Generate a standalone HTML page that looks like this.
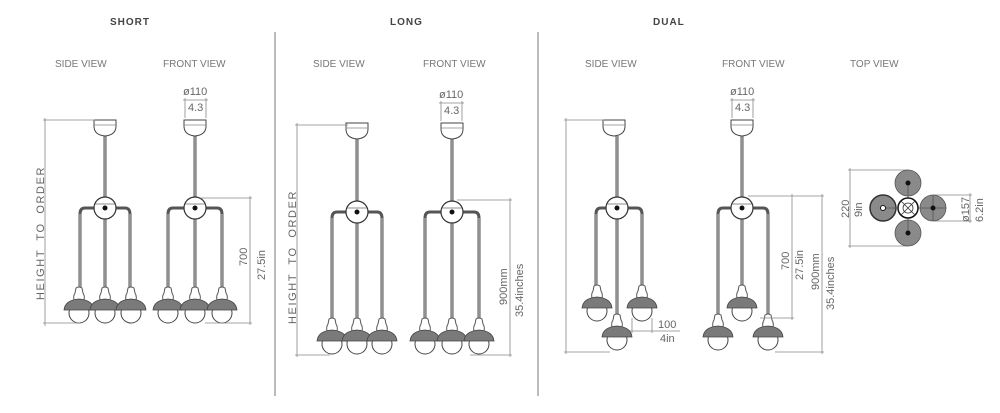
<!DOCTYPE html>
<html><head><meta charset="utf-8"><style>
html,body{margin:0;padding:0;background:#fff;}
svg{display:block;font-family:"Liberation Sans",sans-serif;}
.t{font-size:10px;fill:#777;}
.h{font-size:10px;font-weight:bold;fill:#444;letter-spacing:1px}
.d{stroke:#888;stroke-width:0.8;fill:none}
.dt{font-size:11px;fill:#666}
.hto{font-size:11px;letter-spacing:1.6px;word-spacing:4px}
</style></head><body>
<svg width="1000" height="413" viewBox="0 0 1000 413">
<defs>
<g id="lamp">
<circle cx="0" cy="3" r="10" fill="#fff" stroke="#444" stroke-width="1"/>
<path d="M-3,-22 Q0,-24 3,-22 L4,-17 Q6,-14 5,-10 L-5,-10 Q-6,-14 -4,-17 Z" fill="#fff" stroke="#555" stroke-width="1"/>
<path d="M-15,0 Q-14,-10 0,-11 Q14,-10 15,0 Z" fill="#7a7a7a" stroke="#444" stroke-width="0.8"/>
</g>
<g id="canopy">
<path d="M-11,0 L11,0 L11,6 Q11,15 0,16 Q-11,15 -11,6 Z" fill="#fff" stroke="#444" stroke-width="1"/>
<line x1="-11" y1="5" x2="11" y2="5" stroke="#888" stroke-width="0.8"/>
</g>
<g id="hub">
<circle r="11" fill="#fff" stroke="#333" stroke-width="1.2"/>
<line x1="-10" y1="-4" x2="10" y2="-4" stroke="#666" stroke-width="0.8"/>
<circle r="2.5" fill="#111"/>
</g>
</defs>

<text class="h" x="110" y="25">SHORT</text>
<text class="h" x="390" y="25">LONG</text>
<text class="h" x="653" y="25">DUAL</text>
<text class="t" x="55" y="67">SIDE VIEW</text>
<text class="t" x="163" y="67">FRONT VIEW</text>
<text class="t" x="313" y="67">SIDE VIEW</text>
<text class="t" x="423" y="67">FRONT VIEW</text>
<text class="t" x="585" y="67">SIDE VIEW</text>
<text class="t" x="722" y="67">FRONT VIEW</text>
<text class="t" x="850" y="67">TOP VIEW</text>
<line x1="275" y1="32" x2="275" y2="396" stroke="#777" stroke-width="1"/>
<line x1="538" y1="32" x2="538" y2="396" stroke="#777" stroke-width="1"/>

<g fill="none" stroke="#555" stroke-width="3">
<path d="M105,136 V288"/><path d="M95,208 H85 Q80,208 80,214 V288"/><path d="M115,208 H125 Q130,208 130,214 V288"/>
<path d="M195,136 V288"/><path d="M185,208 H173 Q168,208 168,214 V288"/><path d="M205,208 H217 Q222,208 222,214 V288"/>
<path d="M357,139 V320"/><path d="M347,212 H337 Q332,212 332,218 V320"/><path d="M367,212 H377 Q382,212 382,218 V320"/>
<path d="M452,139 V320"/><path d="M442,212 H430 Q425,212 425,218 V320"/><path d="M462,212 H474 Q479,212 479,218 V320"/>
<path d="M617,136 V316"/><path d="M607,208 H601 Q596,208 596,214 V288"/><path d="M627,208 H637 Q642,208 642,214 V288"/>
<path d="M742,136 V288"/><path d="M732,208 H723 Q718,208 718,214 V316"/><path d="M752,208 H763 Q768,208 768,214 V316"/>
</g>
<g stroke="#ccc" stroke-width="1" fill="none">
<path d="M105,136 V288"/><path d="M80,214 V288"/><path d="M130,214 V288"/>
<path d="M195,136 V288"/><path d="M168,214 V288"/><path d="M222,214 V288"/>
<path d="M357,139 V320"/><path d="M332,218 V320"/><path d="M382,218 V320"/>
<path d="M452,139 V320"/><path d="M425,218 V320"/><path d="M479,218 V320"/>
<path d="M617,136 V316"/><path d="M596,214 V288"/><path d="M642,214 V288"/>
<path d="M742,136 V288"/><path d="M718,214 V316"/><path d="M768,214 V316"/>
</g>

<use href="#canopy" x="105" y="120"/><use href="#canopy" x="195" y="120"/>
<use href="#canopy" x="357" y="123"/><use href="#canopy" x="452" y="123"/>
<use href="#canopy" x="614" y="120"/><use href="#canopy" x="742" y="120"/>
<use href="#hub" x="105" y="208"/><use href="#hub" x="195" y="208"/>
<use href="#hub" x="357" y="212"/><use href="#hub" x="452" y="212"/>
<use href="#hub" x="617" y="208"/><use href="#hub" x="742" y="208"/>

<use href="#lamp" x="79" y="310"/><use href="#lamp" x="105" y="310"/><use href="#lamp" x="131" y="310"/>
<use href="#lamp" x="168" y="310"/><use href="#lamp" x="195" y="310"/><use href="#lamp" x="222" y="310"/>
<use href="#lamp" x="332" y="341"/><use href="#lamp" x="357" y="341"/><use href="#lamp" x="382" y="341"/>
<use href="#lamp" x="425" y="341"/><use href="#lamp" x="452" y="341"/><use href="#lamp" x="479" y="341"/>
<use href="#lamp" x="597" y="308"/><use href="#lamp" x="642" y="308"/><use href="#lamp" x="617" y="337"/>
<use href="#lamp" x="742" y="308"/><use href="#lamp" x="718" y="337"/><use href="#lamp" x="768" y="337"/>

<g class="d">
<path d="M43,120 H95 M45,118 V326 M43,323 H80"/>
<path d="M295,125 H348 M297,123 V357 M295,355 H330"/>
<path d="M564,120 H604 M566,118 V354 M564,352 H610"/>
<path d="M185,98 V118 M206,98 V118 M183,100 H208"/>
<path d="M441,101 V121 M462,101 V121 M439,103 H464"/>
<path d="M732,98 V118 M753,98 V118 M730,100 H755"/>
<path d="M200,198 H252 M250,196 V325 M205,323 H252"/>
<path d="M457,200 H512 M510,198 V357 M470,355 H512"/>
<path d="M748,196 H824 M792,194 V320 M760,318 H794 M822,194 V354 M775,352 H824"/>
<path d="M632,318 V333 M652,318 V333 M630,331 H680"/>
<path d="M848,170 H908 M850,168 V248 M848,246 H908"/>
<path d="M933,195 H972 M933,221 H972 M970,193 V223"/>
</g>
<text class="dt" x="183" y="95">ø110</text><text class="dt" x="188" y="111">4.3</text>
<text class="dt" x="439" y="98">ø110</text><text class="dt" x="444" y="114">4.3</text>
<text class="dt" x="730" y="95">ø110</text><text class="dt" x="735" y="111">4.3</text>
<text class="dt" x="658" y="328">100</text><text class="dt" x="660" y="342">4in</text>
<g class="dt">
<text class="hto" transform="translate(44,300) rotate(-90)">HEIGHT TO ORDER</text>
<text class="hto" transform="translate(296,324) rotate(-90)">HEIGHT TO ORDER</text>
<text transform="translate(247,266) rotate(-90)">700</text>
<text transform="translate(265,280) rotate(-90)">27.5in</text>
<text transform="translate(507,305) rotate(-90)">900mm</text>
<text transform="translate(523,317) rotate(-90)">35.4inches</text>
<text transform="translate(789,270) rotate(-90)">700</text>
<text transform="translate(803,280) rotate(-90)">27.5in</text>
<text transform="translate(819,290) rotate(-90)">900mm</text>
<text transform="translate(834,310) rotate(-90)">35.4inches</text>
<text transform="translate(849,218) rotate(-90)">220</text>
<text transform="translate(862,217) rotate(-90)">9in</text>
<text transform="translate(969,222) rotate(-90)">ø157</text>
<text transform="translate(983,222) rotate(-90)">6.2in</text>
</g>
<g stroke="#555" stroke-width="0.8">
<circle cx="908" cy="183" r="13" fill="#8a8a8a"/>
<circle cx="908" cy="233" r="13" fill="#8a8a8a"/>
<circle cx="883" cy="208" r="13" fill="#8a8a8a" stroke="#333" stroke-width="1.5"/>
<circle cx="933" cy="208" r="13" fill="#8a8a8a"/>
<line x1="908" y1="183" x2="908" y2="233"/><line x1="883" y1="208" x2="946" y2="208"/>
<line x1="933" y1="195" x2="933" y2="221"/>
<circle cx="908" cy="208" r="10" fill="#fff" stroke="#111" stroke-width="1.5"/>
<circle cx="908" cy="208" r="5" fill="none" stroke="#333"/>
<path d="M901,201 L915,215 M915,201 L901,215" stroke="#333"/>
</g>
<circle cx="908" cy="183" r="2.5" fill="#111"/><circle cx="908" cy="233" r="2.5" fill="#111"/>
<circle cx="883" cy="208" r="2.5" fill="#fff" stroke="#111"/><circle cx="933" cy="208" r="2.5" fill="#111"/>
</svg>
</body></html>
